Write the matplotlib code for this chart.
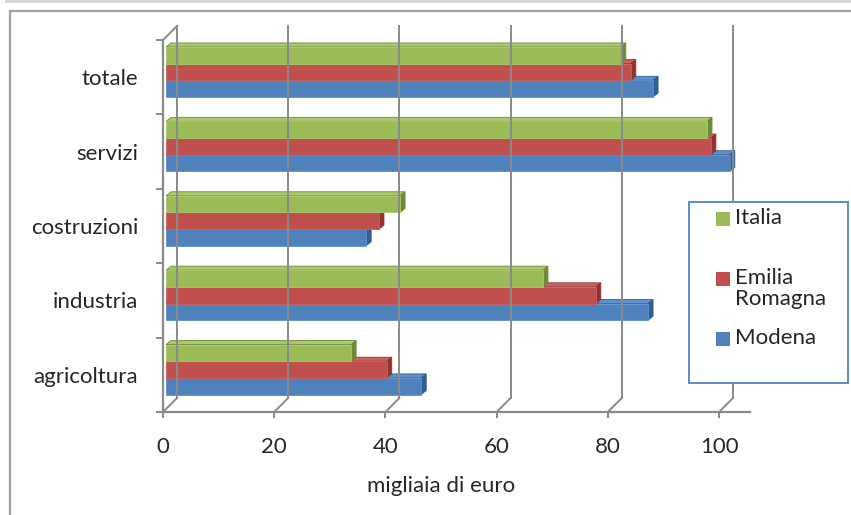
import matplotlib
matplotlib.use("Agg")
import matplotlib.pyplot as plt
from matplotlib.patches import Polygon, Rectangle
from matplotlib.transforms import ScaledTranslation

plt.rcParams['font.family'] = ['Lato', 'DejaVu Sans']

categories = ['agricoltura', 'industria', 'costruzioni', 'servizi', 'totale']
series_names = ['Italia', 'Emilia\nRomagna', 'Modena']
italia = [33.3, 67.8, 42.1, 97.3, 81.8]
emilia_romagna = [39.7, 77.3, 38.3, 98.0, 83.6]
modena = [45.9, 86.7, 36.0, 101.4, 87.6]
xticks = [0, 20, 40, 60, 80, 100]

front = ['#9BBB59', '#C0504D', '#4F81BD']
side = ['#6E8A38', '#8E3331', '#335E91']
top = ['#A9C96A', '#CB605D', '#5D8FCB']
axis_grey = '#8A8A8A'
text_col = '#262626'

W, H = 851, 515
fig = plt.figure(figsize=(W / 100, H / 100), dpi=100)

# outer frame and the grey strip above it
fig.patches.append(Rectangle((5 / W, 1 - 3 / H), 1, 3 / H, transform=fig.transFigure,
                             facecolor='#D6D6D6', edgecolor='none'))
fig.patches.append(Rectangle((10 / W, -0.05), 1, 1 - 11 / H + 0.05, transform=fig.transFigure,
                             facecolor='none', edgecolor='#A0A0A0', linewidth=1.6))

x0, x1 = 163, 749.6
y_top, y_bot = 40, 412
ax = fig.add_axes([x0 / W, 1 - y_bot / H, (x1 - x0) / W, (y_bot - y_top) / H])
xmax = 105.5
ax.set_xlim(0, xmax)
ax.set_ylim(-0.5, 4.5)
for s in ax.spines.values():
    s.set_visible(False)
ax.patch.set_visible(False)

px_x = (x1 - x0) / xmax
px_y = (y_bot - y_top) / 5.0


def shifted(dx, dy):
    return ax.transData + ScaledTranslation(dx / 100, dy / 100, fig.dpi_scale_trans)


# back wall gridlines and floor/wall depth edges
back = shifted(14, 14)
for t in xticks:
    ax.plot([t, t], [-0.5, 4.5], color=axis_grey, lw=1.4, transform=back, clip_on=False)
    ax.plot([t, t + 14 / px_x], [-0.5, -0.5 + 14 / px_y], color=axis_grey, lw=1.4, clip_on=False)
ax.plot([0, 14 / px_x], [4.5, 4.5 + 14 / px_y], color=axis_grey, lw=1.4, clip_on=False)

# front axes lines
ax.plot([0, xmax], [-0.5, -0.5], color=axis_grey, lw=1.6, clip_on=False)
ax.plot([0, 0], [-0.5, 4.5], color=axis_grey, lw=1.6, clip_on=False)

# 3D-looking bars
bar_h = 0.224
depth_x, depth_y = 5 / px_x, 4 / px_y
bars = shifted(3, 3)
values = [italia, emilia_romagna, modena]
offsets = [bar_h, 0.0, -bar_h]
for k in [2, 1, 0]:
    for i, v in enumerate(values[k]):
        yc = i + 0.03 + offsets[k]
        yb, yt = yc - bar_h / 2, yc + bar_h / 2
        ax.add_patch(Polygon([(0, yt), (v, yt), (v + depth_x, yt + depth_y), (depth_x, yt + depth_y)],
                             closed=True, facecolor=top[k], edgecolor=side[k], lw=0.6,
                             transform=bars, clip_on=False))
        ax.add_patch(Polygon([(v, yb), (v + depth_x, yb + depth_y), (v + depth_x, yt + depth_y), (v, yt)],
                             closed=True, facecolor=side[k], edgecolor=side[k], lw=0.6,
                             transform=bars, clip_on=False))
    ax.barh([i + 0.03 + offsets[k] for i in range(len(categories))], values[k], height=bar_h,
            color=front[k], edgecolor=top[k], linewidth=0.6, transform=bars, clip_on=False)

# ticks and labels
ax.set_xticks(xticks)
ax.set_xticklabels([str(t) for t in xticks])
ax.set_yticks(range(len(categories)))
ax.set_yticklabels(categories)
ax.set_yticks([i - 0.5 for i in range(len(categories) + 1)], minor=True)
ax.tick_params(axis='x', length=4, width=1.4, color=axis_grey, pad=14, labelsize=16, labelcolor=text_col)
ax.tick_params(axis='y', which='major', length=0, pad=18, labelsize=16, labelcolor=text_col)
ax.tick_params(axis='y', which='minor', length=5, width=1.4, color=axis_grey)
ax.set_xlabel('migliaia di euro', fontsize=16, color=text_col)
ax.xaxis.set_label_coords((441 - x0) / (x1 - x0), -(476 - y_bot) / (y_bot - y_top), transform=ax.transAxes)

# legend box
lx, ly, lw_, lh = 689, 202, 159, 181
fig.patches.append(Rectangle((lx / W, 1 - (ly + lh) / H), lw_ / W, lh / H, transform=fig.transFigure,
                             facecolor='white', edgecolor='#5B8BC7', linewidth=1.4, zorder=5))
entry_y = [219, 279, 339]
for name, color, yy in zip(series_names, front, entry_y):
    fig.patches.append(Rectangle((716 / W, 1 - (yy + 7) / H), 14 / W, 14 / H, transform=fig.transFigure,
                                 facecolor=color, edgecolor='none', zorder=6))
    fig.text(735 / W, 1 - (yy - 11) / H, name, fontsize=16, color=text_col, va='top', ha='left',
             linespacing=1.05, zorder=7)

fig.savefig('out.png', dpi=100)
